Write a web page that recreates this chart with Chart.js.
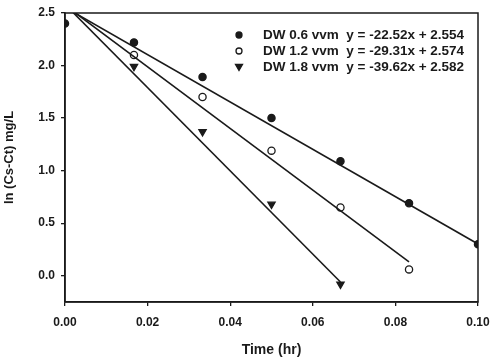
<!DOCTYPE html>
<html>
<head>
<meta charset="utf-8">
<script src="https://cdn.jsdelivr.net/npm/chart.js@4/dist/chart.umd.min.js"></script>
<style>
html,body{margin:0;padding:0;background:#fff;}
#wrap{width:491px;height:361px;position:relative;}
</style>
</head>
<body>
<div id="wrap"><canvas id="c" width="491" height="361"></canvas></div>
<script>
// ---- data ----
const times = [0, 0.0167, 0.0333, 0.05, 0.0667, 0.0833, 0.1];
const dw06 = [2.40, 2.22, 1.89, 1.50, 1.09, 0.69, 0.30];
const dw12 = [null, 2.10, 1.70, 1.19, 0.65, 0.06, null];
const dw18 = [null, 1.99, 1.37, 0.68, -0.08, null, null];
// regression line end points (x, y)
const fitX06 = [0, 0.1],    fitY06 = [2.554, 0.302];
const fitX12 = [0, 0.0833], fitY12 = [2.574, 0.132];
const fitX18 = [0, 0.0667], fitY18 = [2.582, -0.060];
const seriesNames = ["DW 0.6 vvm", "DW 1.2 vvm", "DW 1.8 vvm"];
const equations = ["y = -22.52x + 2.554", "y = -29.31x + 2.574", "y = -39.62x + 2.582"];
const xTicks = [0, 0.02, 0.04, 0.06, 0.08, 0.10];
const yTicks = [0.0, 0.5, 1.0, 1.5, 2.0, 2.5];

const toPts = (xs, ys) => xs.map((x, i) => ({x: x, y: ys[i]})).filter(p => p.y !== null);
const INK = '#1a1a1a';
const FONT = '"Liberation Sans", Arial, sans-serif';

const pointStyles = [
  {pointStyle: 'circle', backgroundColor: INK, borderColor: INK, rotation: 0, radius: 3.6},
  {pointStyle: 'circle', backgroundColor: '#fff', borderColor: INK, rotation: 0, radius: 3.6},
  {pointStyle: 'triangle', backgroundColor: INK, borderColor: INK, rotation: 180, radius: 4.2}
];

const ptData = [dw06, dw12, dw18];
const fits = [[fitX06, fitY06], [fitX12, fitY12], [fitX18, fitY18]];

const datasets = [];
fits.forEach((f) => {
  datasets.push({
    type: 'scatter', data: toPts(f[0], f[1]), showLine: true,
    borderColor: INK, borderWidth: 1.6, pointRadius: 0, fill: false
  });
});
ptData.forEach((d, i) => {
  const s = pointStyles[i];
  datasets.push({
    type: 'scatter', label: seriesNames[i], data: toPts(times, d),
    pointStyle: s.pointStyle, rotation: s.rotation, pointRadius: s.radius,
    pointBackgroundColor: s.backgroundColor, pointBorderColor: s.borderColor,
    pointBorderWidth: 1.3, showLine: false
  });
});

const framePlugin = {
  id: 'frame',
  afterDatasetsDraw(chart) {
    const {ctx, chartArea: a} = chart;
    ctx.save();
    ctx.strokeStyle = INK; ctx.lineWidth = 1.5;
    ctx.strokeRect(a.left, a.top, a.right - a.left, a.bottom - a.top);
    // legend
    ctx.font = 'bold 13.5px ' + FONT;
    ctx.textBaseline = 'middle';
    const rowY = [35, 51, 67];
    for (let i = 0; i < 3; i++) {
      const y = rowY[i], mx = 239;
      const s = pointStyles[i];
      ctx.fillStyle = s.backgroundColor; ctx.strokeStyle = INK; ctx.lineWidth = 1.3;
      ctx.beginPath();
      if (s.pointStyle === 'circle') {
        ctx.arc(mx, y, 3, 0, Math.PI * 2);
      } else {
        ctx.moveTo(mx - 3.5, y - 2.5); ctx.lineTo(mx + 3.5, y - 2.5); ctx.lineTo(mx, y + 3.5); ctx.closePath();
      }
      ctx.fill(); ctx.stroke();
      ctx.fillStyle = INK;
      ctx.textAlign = 'left';
      ctx.fillText(seriesNames[i] + '  ' + equations[i], 263, y);
    }
    ctx.restore();
  }
};

new Chart(document.getElementById('c'), {
  type: 'scatter',
  data: {datasets: datasets},
  plugins: [framePlugin],
  options: {
    responsive: false,
    animation: false,
    devicePixelRatio: 1,
    layout: {padding: {left: 0, top: 13, right: 13, bottom: 0}},
    plugins: {legend: {display: false}, tooltip: {enabled: false}},
    scales: {
      x: {
        type: 'linear', min: 0, max: 0.1,
        afterBuildTicks: (s) => { s.ticks = xTicks.map(v => ({value: v})); },
        afterFit: (s) => { s.height = 59; s.paddingRight = 0; s.paddingLeft = 0; },
        grid: {drawOnChartArea: false, drawTicks: true, tickLength: 4, color: INK, lineWidth: 1.3},
        border: {color: INK, width: 1.5},
        ticks: {color: INK, font: {family: FONT, size: 12, weight: 'bold'}, padding: 9,
                maxRotation: 0, callback: (v) => Number(v).toFixed(2)},
        title: {display: true, text: 'Time (hr)', color: INK,
                font: {family: FONT, size: 14, weight: 'bold'}, padding: {top: 4, bottom: 2}}
      },
      y: {
        type: 'linear', min: -0.25, max: 2.5,
        afterBuildTicks: (s) => { s.ticks = yTicks.map(v => ({value: v})); },
        afterFit: (s) => { s.width = 65; s.paddingTop = 0; s.paddingBottom = 0; },
        grid: {drawOnChartArea: false, drawTicks: true, tickLength: 4, color: INK, lineWidth: 1.3},
        border: {color: INK, width: 1.5},
        ticks: {color: INK, font: {family: FONT, size: 12, weight: 'bold'}, padding: 6,
                callback: (v) => Number(v).toFixed(1)},
        title: {display: true, text: 'ln (Cs-Ct) mg/L', color: INK,
                font: {family: FONT, size: 13, weight: 'bold'}, padding: {top: 2, bottom: 2}}
      }
    }
  }
});
</script>
</body>
</html>
